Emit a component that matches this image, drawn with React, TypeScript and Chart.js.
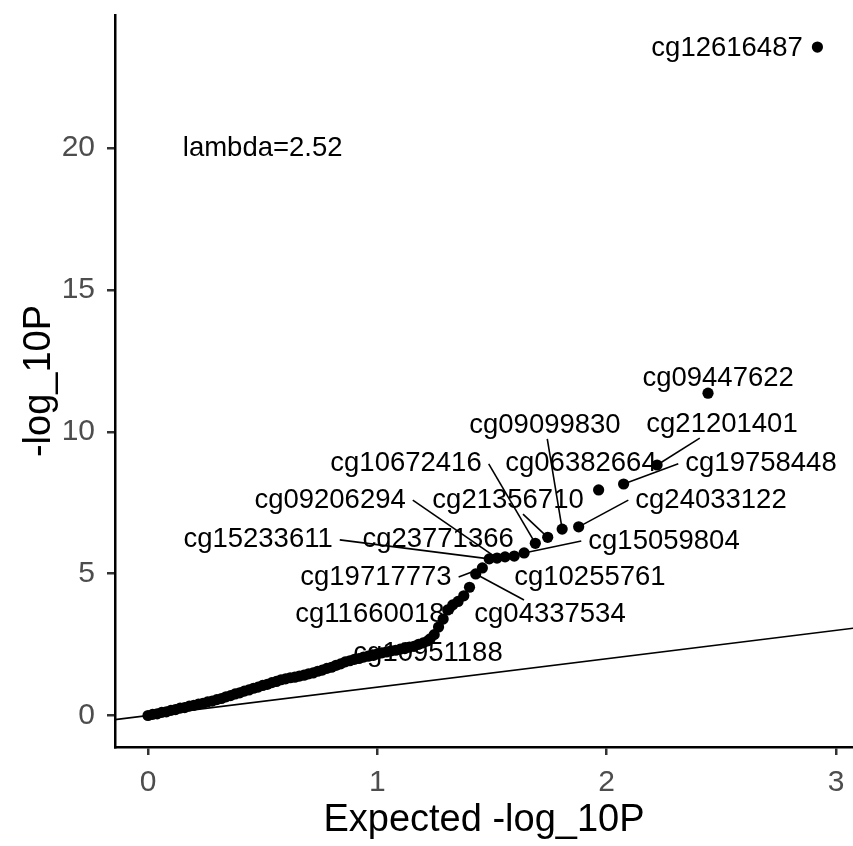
import React, { useEffect, useRef } from "react";
import { Chart, registerables } from "chart.js";

Chart.register(...registerables);

// ---- Data ----
// Top-ranked probes: expected and observed -log10 P
const topExpected = [2.919, 2.442, 2.22, 2.074, 1.965, 1.878, 1.806, 1.743, 1.689, 1.64, 1.597, 1.557, 1.522, 1.488, 1.458, 1.429, 1.402, 1.377, 1.352, 1.329, 1.307, 1.287, 1.267, 1.248, 1.23];
const topObserved = [23.56, 11.36, 8.83, 8.16, 7.95, 6.65, 6.57, 6.28, 6.07, 5.73, 5.62, 5.59, 5.55, 5.52, 5.2, 4.99, 4.52, 4.22, 4.02, 3.9, 3.72, 3.4, 3.12, 2.85, 2.7];

// Bulk of the probes (dense band of points)
const bulkExpected = [0.0, 0.02, 0.04, 0.06, 0.08, 0.1, 0.12, 0.14, 0.16, 0.18, 0.2, 0.22, 0.24, 0.26, 0.28, 0.3, 0.32, 0.34, 0.36, 0.38, 0.4, 0.42, 0.44, 0.46, 0.48, 0.5, 0.52, 0.54, 0.56, 0.58, 0.6, 0.62, 0.64, 0.66, 0.68, 0.7, 0.72, 0.74, 0.76, 0.78, 0.8, 0.82, 0.84, 0.86, 0.88, 0.9, 0.92, 0.94, 0.96, 0.98, 1.0, 1.02, 1.04, 1.06, 1.08, 1.1, 1.12, 1.14, 1.16, 1.18, 1.2, 1.22];
const bulkObserved = [0.0, 0.04, 0.06, 0.11, 0.13, 0.18, 0.21, 0.26, 0.28, 0.33, 0.36, 0.4, 0.43, 0.48, 0.51, 0.56, 0.6, 0.66, 0.7, 0.76, 0.8, 0.86, 0.9, 0.96, 1.0, 1.06, 1.1, 1.16, 1.2, 1.26, 1.29, 1.33, 1.35, 1.39, 1.42, 1.47, 1.5, 1.56, 1.6, 1.66, 1.7, 1.77, 1.82, 1.89, 1.93, 1.98, 2.01, 2.06, 2.09, 2.14, 2.17, 2.21, 2.24, 2.28, 2.3, 2.34, 2.36, 2.41, 2.44, 2.51, 2.56, 2.63];

// Reference line y = x
const ablineX = [-0.5, 3.5];

// Labels (repelled text) – names, label centres in data units, attached point index, segment flag
const labelNames = ["cg12616487", "cg09447622", "cg21201401", "cg19758448", "cg06382664", "cg24033122", "cg09099830", "cg21356710", "cg10672416", "cg15059804", "cg09206294", "cg23771366", "cg15233611", "cg10255761", "cg19717773", "cg04337534", "cg11660018", "cg10951188"];
const labelX = [2.525, 2.486, 2.503, 2.673, 1.888, 2.455, 1.731, 1.57, 1.125, 2.25, 0.794, 1.265, 0.48, 1.927, 0.994, 1.753, 0.968, 1.221];
const labelY = [23.52, 11.89, 10.27, 8.87, 8.87, 7.59, 10.24, 7.59, 8.87, 6.15, 7.59, 6.19, 6.19, 4.85, 4.88, 3.58, 3.58, 2.2];
const labelPoint = [0, 1, 2, 3, 4, 5, 6, 7, 8, 9, 12, 11, 13, 10, 14, 15, 18, 24];
const labelSegment = [false, false, true, true, false, true, true, true, true, true, true, false, true, false, true, true, true, false];

const lambdaText = "lambda=2.52";
const lambdaX = 0.5;
const lambdaY = 20;

const xTicks = [0, 1, 2, 3];
const yTicks = [0, 5, 10, 15, 20];

const FONT = '"Liberation Sans", Arial, Helvetica, sans-serif';

const labelPlugin = {
  id: "repelLabels",
  beforeDatasetsDraw(chart: any) {
    const { ctx, scales } = chart;
    const x = scales.x;
    const y = scales.y;
    ctx.save();
    ctx.font = `27.5px ${FONT}`;
    ctx.textAlign = "center";
    ctx.textBaseline = "middle";
    ctx.strokeStyle = "#000";
    ctx.lineWidth = 1.6;
    labelNames.forEach((name, i) => {
      if (!labelSegment[i]) return;
      const cx = x.getPixelForValue(labelX[i]);
      const cy = y.getPixelForValue(labelY[i]);
      const p = labelPoint[i];
      const px = x.getPixelForValue(topExpected[p]);
      const py = y.getPixelForValue(topObserved[p]);
      const hw = ctx.measureText(name).width / 2 + 7;
      const hh = 14;
      let sx: number, sy: number;
      if (px < cx - hw) {
        sx = cx - hw;
        sy = cy;
      } else if (px > cx + hw) {
        sx = cx + hw;
        sy = cy;
      } else {
        const ey = py > cy ? cy + hh : cy - hh;
        const t = (ey - cy) / (py - cy);
        sx = cx + (px - cx) * t;
        sy = ey;
      }
      ctx.beginPath();
      ctx.moveTo(sx, sy);
      ctx.lineTo(px, py);
      ctx.stroke();
    });
    ctx.fillStyle = "#000";
    labelNames.forEach((name, i) => {
      ctx.fillText(name, x.getPixelForValue(labelX[i]), y.getPixelForValue(labelY[i]));
    });
    ctx.fillText(lambdaText, x.getPixelForValue(lambdaX), y.getPixelForValue(lambdaY));
    ctx.restore();
  },
};

const zeroPad = (s: any) => {
  s.paddingLeft = 0;
  s.paddingRight = 0;
  s.paddingTop = 0;
  s.paddingBottom = 0;
};

export default function App() {
  const canvasRef = useRef<HTMLCanvasElement | null>(null);

  useEffect(() => {
    const canvas = canvasRef.current;
    if (!canvas) return;
    const chart = new Chart(canvas, {
      type: "scatter",
      data: {
        datasets: [
          {
            type: "line",
            data: ablineX.map((v) => ({ x: v, y: v })),
            borderColor: "#000",
            borderWidth: 1.6,
            pointRadius: 0,
            fill: false,
            order: 3,
          } as any,
          {
            data: bulkExpected.map((v, i) => ({ x: v, y: bulkObserved[i] })),
            backgroundColor: "#000",
            borderColor: "#000",
            borderWidth: 0,
            pointRadius: 5.6,
            order: 2,
          },
          {
            data: topExpected.map((v, i) => ({ x: v, y: topObserved[i] })),
            backgroundColor: "#000",
            borderColor: "#000",
            borderWidth: 0,
            pointRadius: 5.6,
            order: 1,
          },
        ],
      },
      options: {
        responsive: false,
        animation: false,
        devicePixelRatio: 1,
        layout: { autoPadding: false, padding: { top: 15, right: 0, left: 0, bottom: 0 } },
        plugins: { legend: { display: false }, tooltip: { enabled: false } },
        scales: {
          x: {
            type: "linear",
            min: -0.1439,
            max: 3.0742,
            afterFit: (s: any) => {
              s.height = 99;
              zeroPad(s);
            },
            afterBuildTicks: (s: any) => {
              s.ticks = xTicks.map((v) => ({ value: v }));
            },
            border: { display: true, color: "#000", width: 2.5 },
            grid: { display: true, drawOnChartArea: false, drawTicks: true, tickLength: 8, color: "#333", lineWidth: 2.5 },
            ticks: { color: "#4D4D4D", font: { family: FONT, size: 30 }, padding: 10, maxRotation: 0, autoSkip: false },
            title: { display: true, text: "Expected -log_10P", color: "#000", font: { family: FONT, size: 38 }, padding: { top: 0, bottom: 3 } },
          },
          y: {
            type: "linear",
            min: -1.11,
            max: 24.69,
            afterFit: (s: any) => {
              s.width = 115;
              zeroPad(s);
            },
            afterBuildTicks: (s: any) => {
              s.ticks = yTicks.map((v) => ({ value: v }));
            },
            border: { display: true, color: "#000", width: 2.5 },
            grid: { display: true, drawOnChartArea: false, drawTicks: true, tickLength: 8, color: "#333", lineWidth: 2.5 },
            ticks: { color: "#4D4D4D", font: { family: FONT, size: 30 }, padding: 12, autoSkip: false },
            title: { display: true, text: "-log_10P", color: "#000", font: { family: FONT, size: 38 }, padding: { top: 17, bottom: 0 } },
          },
        },
      },
      plugins: [labelPlugin],
    });
    return () => chart.destroy();
  }, []);

  return (
    <div style={{ position: "fixed", left: 0, top: 0, width: 853, height: 846, background: "#fff" }}>
      <canvas ref={canvasRef} width={853} height={846} style={{ width: 853, height: 846, display: "block" }} />
    </div>
  );
}
